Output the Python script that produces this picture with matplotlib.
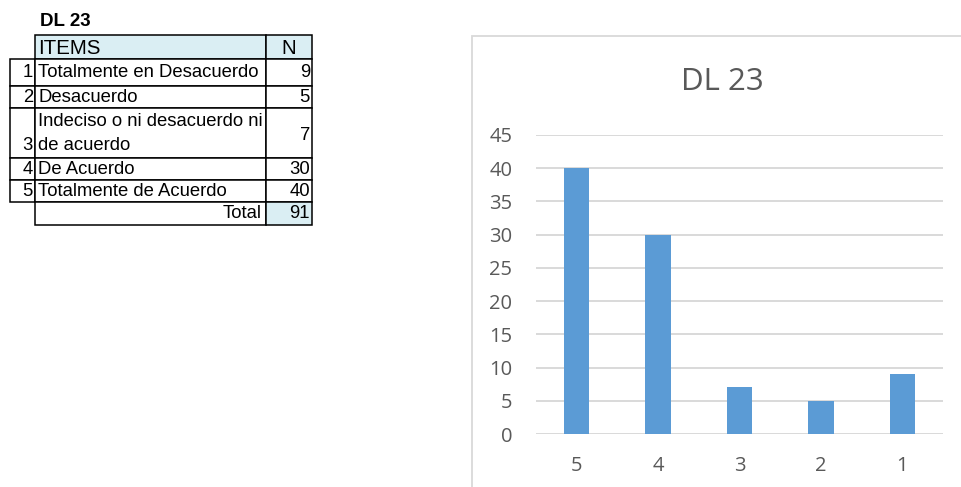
import matplotlib
matplotlib.use("Agg")
import matplotlib.pyplot as plt
from matplotlib.patches import Rectangle

# ---- data ----
table_title = "DL 23"
item_numbers = ["1", "2", "3", "4", "5"]
item_labels = ["Totalmente en Desacuerdo", "Desacuerdo",
               "Indeciso o ni desacuerdo ni\nde acuerdo", "De Acuerdo",
               "Totalmente de Acuerdo"]
item_counts = [9, 5, 7, 30, 40]
total_count = 91

chart_title = "DL 23"
categories = ["5", "4", "3", "2", "1"]
values = [40, 30, 7, 5, 9]
y_ticks = [0, 5, 10, 15, 20, 25, 30, 35, 40, 45]

W, H = 962, 487
fig = plt.figure(figsize=(W / 100, H / 100), dpi=100)
fig.patch.set_facecolor("white")

def fx(x):
    return x / W

def fy(y):
    return 1 - y / H

# ---- table (left) ----
tfont = "Liberation Sans"
fs = 13.3
hfs = 14.8
blue = "#DAEEF3"
cols = [10, 35, 266, 312]
rows = [35, 59, 86, 108, 158, 180, 202, 225]

def cell(x0, x1, y0, y1, fill="white"):
    fig.patches.append(Rectangle((fx(x0), fy(y1)), fx(x1) - fx(x0), fy(y0) - fy(y1),
                                 transform=fig.transFigure, facecolor=fill,
                                 edgecolor="black", linewidth=1.1, zorder=1))

# header
cell(cols[1], cols[2], rows[0], rows[1], blue)
cell(cols[2], cols[3], rows[0], rows[1], blue)
# items
for i in range(5):
    y0, y1 = rows[i + 1], rows[i + 2]
    cell(cols[0], cols[1], y0, y1)
    cell(cols[1], cols[2], y0, y1)
    cell(cols[2], cols[3], y0, y1)
# total
cell(cols[1], cols[2], rows[6], rows[7])
cell(cols[2], cols[3], rows[6], rows[7], blue)

fig.text(fx(40), fy(22), table_title, fontfamily=tfont, fontsize=13.5, fontweight="bold",
         ha="left", va="center")
fig.text(fx(38), fy(48.5), "ITEMS", fontfamily=tfont, fontsize=hfs, ha="left", va="center")
fig.text(fx(289), fy(48.5), "N", fontfamily=tfont, fontsize=hfs, ha="center", va="center")

for i in range(5):
    y0, y1 = rows[i + 1], rows[i + 2]
    yc = (y0 + y1) / 2
    if "\n" in item_labels[i]:
        l1, l2 = item_labels[i].split("\n")
        fig.text(fx(38), fy(y0 + 13), l1, fontfamily=tfont, fontsize=fs, ha="left", va="center")
        fig.text(fx(38), fy(y1 - 12), l2, fontfamily=tfont, fontsize=fs, ha="left", va="center")
        fig.text(fx(33), fy(y1 - 12), item_numbers[i], fontfamily=tfont, fontsize=fs,
                 ha="right", va="center")
        fig.text(fx(310), fy(yc + 2), str(item_counts[i]), fontfamily=tfont, fontsize=fs,
                 ha="right", va="center")
    else:
        fig.text(fx(38), fy(yc), item_labels[i], fontfamily=tfont, fontsize=fs, ha="left", va="center")
        fig.text(fx(33), fy(yc), item_numbers[i], fontfamily=tfont, fontsize=fs,
                 ha="right", va="center")
        fig.text(fx(310), fy(yc), str(item_counts[i]), fontfamily=tfont, fontsize=fs,
                 ha="right", va="center")

yc = (rows[6] + rows[7]) / 2
fig.text(fx(262), fy(yc), "Total", fontfamily=tfont, fontsize=fs, ha="right", va="center")
fig.text(fx(310), fy(yc), str(total_count), fontfamily=tfont, fontsize=fs, ha="right", va="center")

# ---- chart (right) ----
cfont = "Open Sans"
gray = "#595959"
fig.patches.append(Rectangle((fx(472), fy(500)), fx(500), fy(36) - fy(500),
                             transform=fig.transFigure, facecolor="none",
                             edgecolor="#D9D9D9", linewidth=1.3, zorder=0))

ax = fig.add_axes([fx(536), fy(434), fx(943) - fx(536), fy(135) - fy(434)])
ax.set_zorder(2)
ax.set_facecolor("none")
x = range(len(categories))
ax.bar(x, values, width=0.31, color="#5B9BD5", zorder=3)
ax.set_xlim(-0.5, len(categories) - 0.5)
ax.set_ylim(0, 45)
ax.set_yticks(y_ticks)
ax.set_xticks(list(x))
ax.set_xticklabels(categories)
ax.grid(axis="y", color="#D9D9D9", linewidth=1.4, zorder=0)
ax.set_axisbelow(True)
for s in ax.spines.values():
    s.set_visible(False)
ax.tick_params(axis="both", length=0, colors=gray, labelsize=14.5)
ax.tick_params(axis="y", pad=17)
ax.tick_params(axis="x", pad=16)
for lab in ax.get_xticklabels() + ax.get_yticklabels():
    lab.set_fontfamily(cfont)
    lab.set_color(gray)

fig.text(fx(722), fy(82), chart_title, fontfamily=cfont, fontsize=22.5, color=gray,
         ha="center", va="center")

fig.savefig("out.png", dpi=100, facecolor="white")
